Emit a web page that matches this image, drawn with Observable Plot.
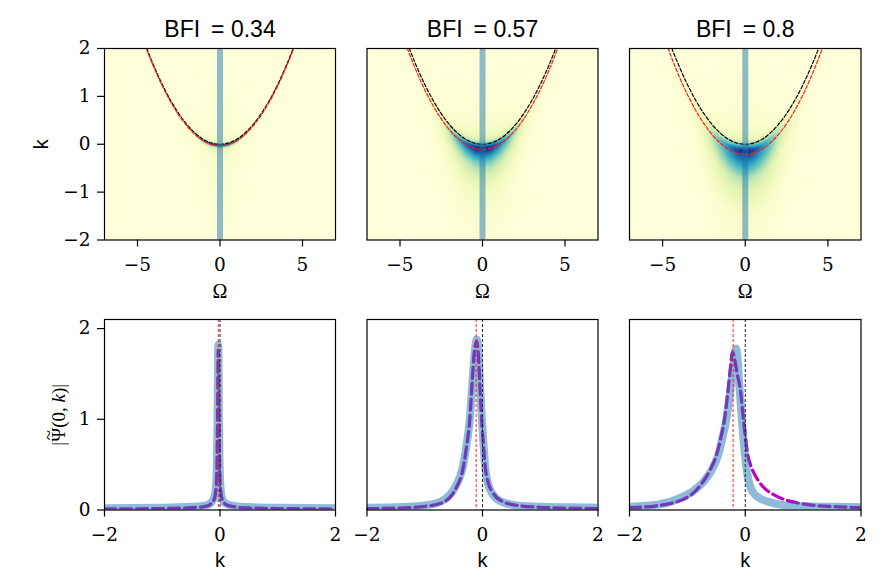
<!DOCTYPE html>
<html><head><meta charset="utf-8">
<script src="https://cdn.jsdelivr.net/npm/d3@7"></script>
<script src="https://cdn.jsdelivr.net/npm/@observablehq/plot@0.6"></script>
<style>
body{margin:0;background:#fff;}
#fig{position:relative;width:881px;height:570px;background:#fff;overflow:hidden;}
#fig svg{position:absolute;left:0;top:0;}
</style></head><body><div id="fig"></div>
<script>
// ---------- data ----------
const titles = ["BFI = 0.34", "BFI = 0.57", "BFI = 0.8"];
const omegaTicks = [-5, 0, 5];
const kTicksTop = [-2, -1, 0, 1, 2];
const kTicksBottom = [-2, 0, 2];
const psiTicks = [0, 1, 2];
const omegaLabel = "Ω";
const kLabel = "k";
const psiLabel = "|Ψ(0, k)|";
const sliceOmega = [0];     // vertical slice drawn in the maps
const kZero = [0];          // black dashed reference in the profiles
const peakShift = [-0.03, -0.11, -0.21];   // red dashed offset per panel

// black dashed dispersion curve (Ω, k)
const dispOmega = [-5,-4.5,-4,-3.5,-3,-2.5,-2,-1.5,-1,-0.5,0,0.5,1,1.5,2,2.5,3,3.5,4,4.5,5];
const dispK     = [2.55,2.06,1.63,1.25,0.92,0.64,0.41,0.23,0.1,0.025,0,0.025,0.1,0.23,0.41,0.64,0.92,1.25,1.63,2.06,2.55];

// heat map samples: |Ω| nodes, offsets d from the black curve, normalised intensity grid[d][Ω]
const heatOmega = [0, 0.5, 1, 1.5, 2, 2.5, 3, 4, 5];
const heatD1 = [-2.5,-1.2,-0.5,-0.25,-0.12,-0.07,-0.045,-0.03,-0.015,0,0.03,0.1,0.4,1.5];
const heatV1 = [
  [0,0,0,0,0,0,0,0,0],
  [0.02,0.015,0.01,0.005,0,0,0,0,0],
  [0.04,0.03,0.02,0.01,0.005,0,0,0,0],
  [0.07,0.05,0.03,0.015,0.008,0.003,0,0,0],
  [0.15,0.1,0.06,0.03,0.015,0.005,0,0,0],
  [0.3,0.27,0.2,0.1,0.03,0.01,0.003,0,0],
  [0.7,0.64,0.5,0.26,0.08,0.025,0.008,0,0],
  [1,0.92,0.75,0.4,0.12,0.04,0.012,0.003,0],
  [0.7,0.64,0.5,0.26,0.08,0.025,0.008,0,0],
  [0.35,0.31,0.24,0.12,0.035,0.012,0.004,0,0],
  [0.15,0.1,0.06,0.03,0.012,0.005,0,0,0],
  [0.06,0.04,0.025,0.012,0.005,0,0,0,0],
  [0.02,0.015,0.01,0.005,0,0,0,0,0],
  [0,0,0,0,0,0,0,0,0]
];
const heatD2 = [-2.5,-1.4,-0.9,-0.65,-0.5,-0.38,-0.28,-0.2,-0.14,-0.1,-0.06,-0.02,0.02,0.08,0.18,0.35,0.7,1.5];
const heatV2 = [
  [0,0,0,0,0,0,0,0,0],
  [0.04,0.038,0.032,0.024,0.016,0.009,0.004,0.001,0],
  [0.1,0.095,0.08,0.06,0.04,0.022,0.01,0.003,0],
  [0.2,0.19,0.16,0.12,0.075,0.04,0.018,0.005,0],
  [0.3,0.28,0.23,0.17,0.11,0.055,0.024,0.006,0],
  [0.42,0.39,0.32,0.24,0.15,0.075,0.03,0.007,0],
  [0.58,0.54,0.44,0.32,0.2,0.095,0.036,0.008,0],
  [0.76,0.7,0.56,0.4,0.25,0.11,0.04,0.009,0],
  [0.92,0.84,0.67,0.47,0.29,0.12,0.045,0.01,0],
  [1,0.9,0.72,0.5,0.3,0.12,0.045,0.01,0],
  [0.9,0.81,0.64,0.44,0.26,0.1,0.04,0.009,0],
  [0.62,0.56,0.44,0.3,0.18,0.075,0.03,0.007,0],
  [0.38,0.34,0.27,0.19,0.11,0.05,0.02,0.005,0],
  [0.2,0.18,0.14,0.1,0.06,0.028,0.012,0.003,0],
  [0.1,0.09,0.072,0.05,0.032,0.016,0.007,0.002,0],
  [0.05,0.045,0.036,0.026,0.017,0.009,0.004,0.001,0],
  [0.025,0.022,0.018,0.013,0.009,0.005,0.002,0,0],
  [0,0,0,0,0,0,0,0,0]
];
const heatD3 = [-2.5,-1.5,-1.1,-0.9,-0.71,-0.58,-0.46,-0.38,-0.3,-0.25,-0.2,-0.16,-0.12,-0.08,-0.04,0,0.05,0.12,0.25,0.5,1.0,2.0];
const heatV3 = [
  [0,0,0,0,0,0,0,0,0],
  [0.05,0.048,0.043,0.034,0.023,0.013,0.006,0.0015,0],
  [0.13,0.124,0.11,0.088,0.059,0.033,0.016,0.004,0],
  [0.2,0.19,0.17,0.136,0.09,0.05,0.024,0.006,0],
  [0.3,0.27,0.225,0.165,0.105,0.054,0.024,0.006,0],
  [0.43,0.39,0.32,0.24,0.15,0.077,0.034,0.009,0],
  [0.55,0.5,0.41,0.3,0.19,0.1,0.044,0.011,0],
  [0.65,0.58,0.48,0.35,0.22,0.11,0.05,0.013,0],
  [0.76,0.68,0.55,0.4,0.25,0.125,0.055,0.014,0],
  [0.84,0.72,0.55,0.38,0.24,0.11,0.042,0.01,0],
  [0.93,0.79,0.6,0.42,0.26,0.12,0.046,0.011,0],
  [1,0.85,0.65,0.45,0.28,0.13,0.05,0.012,0],
  [0.9,0.77,0.59,0.41,0.25,0.117,0.045,0.011,0],
  [0.72,0.61,0.47,0.32,0.2,0.094,0.036,0.009,0],
  [0.55,0.47,0.36,0.25,0.154,0.072,0.028,0.007,0],
  [0.36,0.31,0.234,0.16,0.1,0.047,0.018,0.004,0],
  [0.2,0.17,0.13,0.09,0.056,0.026,0.01,0.002,0],
  [0.12,0.1,0.078,0.054,0.034,0.016,0.006,0.0015,0],
  [0.07,0.06,0.046,0.032,0.02,0.009,0.004,0.001,0],
  [0.035,0.03,0.023,0.016,0.01,0.005,0.002,0,0],
  [0.018,0.015,0.012,0.008,0.005,0.002,0.001,0,0],
  [0,0,0,0,0,0,0,0,0]
];

// profiles |Ψ(0,k)|: simulation (thick blue) and model (magenta dashed)
const profK1 = [-2,-1,-0.5,-0.3,-0.2,-0.14,-0.1,-0.075,-0.06,-0.05,-0.042,-0.036,-0.03,-0.024,-0.018,-0.01,0,0.015,0.04,0.08,0.14,0.2,0.3,0.5,1,2];
const blue1   = [0.02,0.025,0.035,0.045,0.06,0.09,0.14,0.22,0.35,0.6,1.0,1.5,1.82,1.5,1.0,0.6,0.35,0.2,0.12,0.08,0.06,0.05,0.04,0.033,0.025,0.02];
const purple1 = [0.012,0.016,0.025,0.035,0.05,0.08,0.12,0.2,0.33,0.58,0.98,1.45,1.76,1.45,0.98,0.58,0.33,0.19,0.11,0.07,0.05,0.04,0.03,0.022,0.016,0.012];

const profK2 = [-2,-1.5,-1,-0.7,-0.55,-0.45,-0.35,-0.28,-0.22,-0.18,-0.14,-0.1,-0.07,-0.04,-0.01,0.02,0.05,0.1,0.18,0.3,0.6,1,1.5,2];
const blue2   = [0.025,0.03,0.05,0.1,0.18,0.28,0.45,0.7,1.0,1.35,1.7,1.88,1.75,1.35,1.0,0.7,0.45,0.28,0.17,0.1,0.05,0.035,0.03,0.025];
const purple2 = [0.015,0.02,0.04,0.08,0.15,0.25,0.42,0.68,1.0,1.4,1.75,1.86,1.7,1.3,0.95,0.68,0.46,0.3,0.19,0.11,0.05,0.03,0.02,0.015];

const profK3 = [-2,-1.5,-1.1,-0.9,-0.71,-0.58,-0.46,-0.4,-0.33,-0.29,-0.25,-0.2,-0.16,-0.13,-0.11,-0.08,-0.05,-0.02,0.01,0.04,0.08,0.14,0.25,0.4,0.7,1,1.5,2];
const blue3   = [0.035,0.06,0.14,0.21,0.32,0.44,0.62,0.78,0.99,1.16,1.35,1.62,1.78,1.65,1.45,1.18,0.93,0.7,0.52,0.38,0.27,0.19,0.13,0.09,0.05,0.04,0.035,0.03];
const purpleK3 = [-2,-1.5,-1.0,-0.72,-0.6,-0.49,-0.42,-0.36,-0.3,-0.25,-0.22,-0.18,-0.14,-0.09,-0.03,0.04,0.12,0.23,0.35,0.49,0.7,0.89,1.2,1.6,2];
const purple3  = [0.025,0.05,0.14,0.32,0.45,0.62,0.8,0.99,1.3,1.6,1.74,1.65,1.5,1.35,0.99,0.62,0.45,0.32,0.23,0.17,0.11,0.08,0.05,0.035,0.025];

// ---------- build tables ----------
const heatD = [heatD1, heatD2, heatD3];
const heatV = [heatV1, heatV2, heatV3];
const blackRows = dispOmega.map((o, i) => ({omega: o, k: dispK[i]}));
const redRows = peakShift.map(s => dispOmega.map((o, i) => ({omega: o, k: dispK[i] + s})));
const toRows = (ks, vs) => ks.map((k, i) => ({k, v: vs[i]}));
const blueRows = [toRows(profK1, blue1), toRows(profK2, blue2), toRows(profK3, blue3)];
const purpleRows = [toRows(profK1, purple1), toRows(profK2, purple2), toRows(purpleK3, purple3)];

function locate(xs, x) {
  const n = xs.length;
  if (x <= xs[0]) return [0, 0];
  if (x >= xs[n - 1]) return [n - 2, 1];
  const i = Math.min(n - 2, d3.bisectRight(xs, x) - 1);
  return [i, (x - xs[i]) / (xs[i + 1] - xs[i])];
}
function at1(xs, ys, x) { const [i, t] = locate(xs, x); return ys[i] + (ys[i + 1] - ys[i]) * t; }
function at2(cols, rows, grid, x, y) {
  const [j, u] = locate(rows, y);
  const a = at1(cols, grid[j], x), b = at1(cols, grid[j + 1], x);
  return a + (b - a) * u;
}

// ---------- layout ----------
const W = 881, H = 570;
const colL = [104, 366.5, 629], colR = [335, 597.5, 860.5];
const rowTop = [48, 239.5], rowBot = [319, 509.5];
const serif = "'Liberation Serif', 'DejaVu Serif', serif";
const tickSerif = "'DejaVu Serif', 'Liberation Serif', serif";
const sans = "'Liberation Sans', 'DejaVu Sans', sans-serif";
const fig = document.getElementById("fig");
const axisStyle = {tickSize: 7, tickPadding: 11, label: null, strokeWidth: 1.2, tickFormat: "d"};

function frameOpts(p, row) {
  return {width: W, height: H, marginLeft: colL[p], marginRight: W - colR[p], marginTop: row[0], marginBottom: H - row[1],
          style: {background: "transparent", overflow: "visible", color: "black"}};
}

for (let p = 0; p < 3; p++) {
  const field = (x, y) => at2(heatOmega, heatD[p], heatV[p], Math.abs(x), y - at1(dispOmega, dispK, x));
  const marks = [
    Plot.raster({x1: -7, x2: 7, y1: -2, y2: 2, fill: field}),
    Plot.line(blackRows, {x: "omega", y: "k", stroke: "black", strokeWidth: 1.2, strokeDasharray: "3.5,2", curve: "natural", clip: true}),
    Plot.line(redRows[p], {x: "omega", y: "k", stroke: "#ff1a1a", strokeWidth: 1.2, strokeDasharray: "3.5,2", curve: "natural", clip: true}),
    Plot.ruleX(sliceOmega, {stroke: "#1f77b4", strokeOpacity: 0.5, strokeWidth: 6}),
    Plot.frame({stroke: "black", strokeWidth: 1.2}),
    Plot.axisX(omegaTicks, axisStyle),
    Plot.text([titles[p]], {text: d => d.replace(" = ", "\u2009 = "), frameAnchor: "top", textAnchor: "middle", lineAnchor: "middle", dy: -18.7, fontSize: 23, fontFamily: sans, fill: "black"}),
    Plot.text([omegaLabel], {frameAnchor: "bottom", textAnchor: "middle", lineAnchor: "middle", dy: 52, fontSize: 20, fontFamily: serif, fill: "black"})
  ];
  if (p === 0) {
    marks.push(Plot.axisY(kTicksTop, {...axisStyle, tickPadding: 7}));
    marks.push(Plot.text([kLabel], {frameAnchor: "left", textAnchor: "middle", lineAnchor: "middle", dx: -63, rotate: -90, fontSize: 20, fontFamily: sans, fill: "black"}));
  }
  const chart = Plot.plot({
    ...frameOpts(p, rowTop),
    x: {domain: [-7, 7], axis: null},
    y: {domain: [-2, 2], axis: null},
    color: {type: "linear", scheme: "YlGnBu", domain: [0, 1], clamp: true},
    marks
  });
  fig.appendChild(chart);
}

for (let p = 0; p < 3; p++) {
  const marks = [
    Plot.line(purpleRows[p], {x: "k", y: "v", stroke: "#bf00bf", strokeWidth: 3.3, strokeDasharray: "11,5", curve: "monotone-x", clip: true}),
    Plot.line(blueRows[p], {x: "k", y: "v", stroke: "#1f77b4", strokeOpacity: 0.5, strokeWidth: 8, curve: "monotone-x", clip: true}),
    Plot.ruleX([peakShift[p]], {stroke: "#ff2020", strokeWidth: 1, strokeDasharray: "3,2"}),
    Plot.ruleX(kZero, {stroke: "#222", strokeWidth: 1, strokeDasharray: "3,2"}),
    Plot.frame({stroke: "black", strokeWidth: 1.2}),
    Plot.axisX(kTicksBottom, axisStyle),
    Plot.text([kLabel], {frameAnchor: "bottom", textAnchor: "middle", lineAnchor: "middle", dy: 51, fontSize: 20, fontFamily: sans, fill: "black"})
  ];
  if (p === 0) {
    marks.push(Plot.axisY(psiTicks, {...axisStyle, tickPadding: 7}));
    marks.push(Plot.text([psiLabel], {frameAnchor: "left", textAnchor: "middle", lineAnchor: "middle", dx: -46, rotate: -90, fontSize: 19, fontFamily: serif, fill: "black"}));
  }
  const chart = Plot.plot({
    ...frameOpts(p, rowBot),
    x: {domain: [-2, 2], axis: null},
    y: {domain: [0, 2.1], axis: null},
    marks
  });
  fig.appendChild(chart);
}

// tick labels in a wider serif face; tilde over Ψ and italic k in the profile label
fig.querySelectorAll("text").forEach(t => {
  const s = t.textContent;
  if (/^[−-]?\d+$/.test(s)) {
    t.style.fontFamily = tickSerif;
    t.style.fontSize = "18.5px";
  }
  if (s === psiLabel) {
    t.innerHTML = "|Ψ<tspan dx='-0.66em' dy='-0.5em'>~</tspan><tspan dx='0.12em' dy='0.5em'>(0, </tspan><tspan font-style='italic'>k</tspan>)|";
  }
});
</script></body></html>
